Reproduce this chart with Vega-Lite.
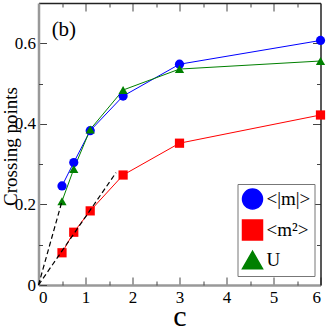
{
  "$schema": "https://vega.github.io/schema/vega-lite/v6.json",
  "width": 282,
  "height": 282,
  "autosize": "none",
  "padding": {"left": 38.5, "top": 3, "right": 6.5, "bottom": 42},
  "config": {
    "view": {"stroke": null},
    "font": "Liberation Serif",
    "axis": {"labelFont": "Liberation Serif", "titleFont": "Liberation Serif", "titleFontWeight": "normal", "grid": false, "labelColor": "#000", "titleColor": "#000"},
    "legend": {"labelFont": "Liberation Serif"}
  },
  "data": {
    "values": [
      {"series": "<|m|>", "c": 0.5, "value": 0.246},
      {"series": "<|m|>", "c": 0.75, "value": 0.304},
      {"series": "<|m|>", "c": 1.1, "value": 0.383},
      {"series": "<|m|>", "c": 1.8, "value": 0.469},
      {"series": "<|m|>", "c": 3, "value": 0.548},
      {"series": "<|m|>", "c": 6, "value": 0.607},
      {"series": "<m²>", "c": 0.5, "value": 0.08},
      {"series": "<m²>", "c": 0.75, "value": 0.131},
      {"series": "<m²>", "c": 1.1, "value": 0.184},
      {"series": "<m²>", "c": 1.8, "value": 0.273},
      {"series": "<m²>", "c": 3, "value": 0.352},
      {"series": "<m²>", "c": 6, "value": 0.422},
      {"series": "U", "c": 0.5, "value": 0.208},
      {"series": "U", "c": 0.75, "value": 0.288},
      {"series": "U", "c": 1.1, "value": 0.386},
      {"series": "U", "c": 1.8, "value": 0.484},
      {"series": "U", "c": 3, "value": 0.536},
      {"series": "U", "c": 6, "value": 0.556},
      {"series": "fitU", "c": 0, "value": 0},
      {"series": "fitU", "c": 0.5, "value": 0.208},
      {"series": "fitM2", "c": 0, "value": 0},
      {"series": "fitM2", "c": 1.65, "value": 0.279},
      {"series": "label", "c": 0.54, "value": 0.633, "text": "(b)"}
    ]
  },
  "resolve": {"axis": {"x": "independent", "y": "independent"}},
  "layer": [
    {
      "transform": [{"filter": "indexof(['<|m|>','<m²>','U'], datum.series) >= 0"}],
      "mark": {"type": "line", "strokeWidth": 1},
      "encoding": {
        "x": {"field": "c", "type": "quantitative", "scale": {"domain": [0, 6], "nice": false, "zero": false},
          "axis": {"orient": "bottom", "values": [0, 1, 2, 3, 4, 5, 6], "tickSize": -8, "tickColor": "#444", "domainColor": "#999", "domainWidth": 2.5, "labelFont": "Liberation Serif", "labelFontSize": 17, "labelPadding": 12, "title": "c", "titleFont": "Liberation Serif", "titleFontSize": 30, "titleX": 141, "titleY": 40, "titleBaseline": "alphabetic", "titleAlign": "center"}},
        "y": {"field": "value", "type": "quantitative", "scale": {"domain": [0, 0.7], "nice": false},
          "axis": {"orient": "left", "values": [0, 0.2, 0.4, 0.6], "format": "~g", "tickSize": -8, "tickColor": "#444", "domainColor": "#999", "domainWidth": 2.5, "labelFont": "Liberation Serif", "labelFontSize": 17, "labelPadding": 11, "title": "Crossing points", "titleFont": "Liberation Serif", "titleFontSize": 19, "titleX": -28, "titleY": 143, "titleBaseline": "middle", "titleAlign": "center", "titleAngle": -90}},
        "color": {"field": "series", "type": "nominal", "scale": {"domain": ["<|m|>", "<m²>", "U"], "range": ["#0000ff", "#ff0000", "#008000"]}},
        "detail": {"field": "series"}
      }
    },
    {
      "transform": [{"filter": "indexof(['<|m|>','<m²>','U'], datum.series) >= 0"}],
      "mark": {"type": "point", "filled": true, "opacity": 1, "size": 85},
      "encoding": {
        "x": {"field": "c", "type": "quantitative", "axis": {"orient": "top", "values": [1, 2, 3, 4, 5], "labels": false, "title": null, "tickSize": -8, "tickColor": "#444", "domainColor": "#222", "domainWidth": 1.5}},
        "y": {"field": "value", "type": "quantitative", "axis": {"orient": "right", "values": [0.2, 0.4, 0.6], "labels": false, "title": null, "tickSize": -8, "tickColor": "#444", "domainColor": "#222", "domainWidth": 1.5}},
        "color": {"field": "series", "type": "nominal",
          "legend": {"title": null, "orient": "none", "legendX": 199, "legendY": 181, "direction": "vertical",
            "strokeColor": "#777", "fillColor": "#fff", "padding": 4, "labelFont": "Liberation Serif", "labelFontSize": 19, "symbolSize": 400, "rowPadding": 5, "labelOffset": 3}},
        "shape": {"field": "series", "type": "nominal", "scale": {"domain": ["<|m|>", "<m²>", "U"], "range": ["circle", "square", "triangle-up"]}, "legend": null}
      }
    },
    {
      "transform": [{"filter": "datum.series === 'fitU' || datum.series === 'fitM2'"}],
      "mark": {"type": "line", "color": "#000", "strokeWidth": 1.2, "strokeDash": [5, 3]},
      "encoding": {
        "x": {"field": "c", "type": "quantitative", "axis": {"orient": "bottom", "values": [0.5, 1.5, 2.5, 3.5, 4.5, 5.5], "labels": false, "title": null, "tickSize": -4, "tickColor": "#444", "domain": false}},
        "y": {"field": "value", "type": "quantitative", "axis": {"orient": "left", "values": [0.1, 0.3, 0.5], "labels": false, "title": null, "tickSize": -4, "tickColor": "#444", "domain": false}},
        "detail": {"field": "series"}
      }
    },
    {
      "transform": [{"filter": "datum.series === 'label'"}],
      "mark": {"type": "text", "fontSize": 21, "font": "Liberation Serif", "color": "#000"},
      "encoding": {
        "x": {"field": "c", "type": "quantitative", "axis": {"orient": "top", "values": [0.5, 1.5, 2.5, 3.5, 4.5, 5.5], "labels": false, "title": null, "tickSize": -4, "tickColor": "#444", "domain": false}},
        "y": {"field": "value", "type": "quantitative", "axis": {"orient": "right", "values": [0.1, 0.3, 0.5], "labels": false, "title": null, "tickSize": -4, "tickColor": "#444", "domain": false}},
        "text": {"field": "text"}
      }
    }
  ]
}
